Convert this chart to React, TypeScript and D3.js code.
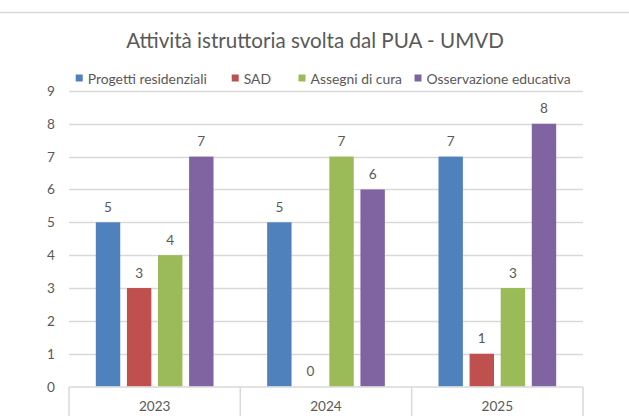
import React from "react";
import * as d3 from "d3";

const categories = ["2023", "2024", "2025"];
const seriesNames = ["Progetti residenziali", "SAD", "Assegni di cura", "Osservazione educativa"];
const progetti = [5, 5, 7];
const sad = [3, 0, 1];
const assegni = [4, 7, 3];
const osservazione = [7, 6, 8];
const yTicks = [0, 1, 2, 3, 4, 5, 6, 7, 8, 9];
const colors = ["#4F81BD", "#C0504D", "#9BBB59", "#8064A2"];
const title = "Attività istruttoria svolta dal PUA - UMVD";

const W = 629, H = 416;
const FONT = "Lato, 'Open Sans', sans-serif";
const TXT = "#595959";

export default function App() {
  const values = [progetti, sad, assegni, osservazione];
  const x = d3.scaleBand<string>().domain(categories).range([69, 583]).paddingInner(0).paddingOuter(0);
  const y = d3.scaleLinear().domain([0, 9]).range([386.6, 90.9]);
  const groupW = 117.7;
  const legendX = [75.7, 231.7, 298.5, 414.5];
  return (
    <svg width={W} height={H} style={{ position: "fixed", left: 0, top: 0, background: "#fff" }} fontFamily={FONT}>
      <rect x={0} y={0} width={W} height={H} fill="#fff" />
      <line x1={0} x2={W} y1={12.5} y2={12.5} stroke="#D9D9D9" strokeWidth={1.5} />
      <text x={315} y={48} textAnchor="middle" fontSize={20.6} fill={TXT}>{title}</text>
      {seriesNames.map((s, i) => (
        <g key={s}>
          <rect x={legendX[i]} y={74.5} width={7} height={7} fill={colors[i]} />
          <text x={legendX[i] + 12} y={83.5} fontSize={13.9} fill={TXT}>{s}</text>
        </g>
      ))}
      {yTicks.map((t) => (
        <g key={t}>
          {t > 0 && <line x1={69} x2={583} y1={Math.round(y(t)) + 0.5} y2={Math.round(y(t)) + 0.5} stroke="#D9D9D9" strokeWidth={1.5} />}
          <text x={55} y={y(t) + 5} textAnchor="end" fontSize={13.6} fill={TXT}>{t}</text>
        </g>
      ))}
      {categories.map((c, ci) => {
        const cx = (x(c) as number) + x.bandwidth() / 2;
        const xs = d3.scaleBand<number>().domain([0, 1, 2, 3]).range([cx - groupW / 2, cx + groupW / 2]).paddingInner(0.215).paddingOuter(0);
        return (
          <g key={c}>
            {values.map((arr, si) => {
              const v = arr[ci];
              const bx = xs(si) as number;
              return (
                <g key={si}>
                  {v > 0 && <rect x={bx} y={y(v)} width={xs.bandwidth()} height={y(0) - y(v)} fill={colors[si]} />}
                  <text x={bx + xs.bandwidth() / 2} y={y(v) - 10.5} textAnchor="middle" fontSize={13.6} fill={TXT}>{v}</text>
                </g>
              );
            })}
            <text x={cx} y={411} textAnchor="middle" fontSize={13.6} fill={TXT}>{c}</text>
          </g>
        );
      })}
      <line x1={69} x2={583} y1={387} y2={387} stroke="#D9D9D9" strokeWidth={1.5} />
      {[69, 240.3, 411.7, 583].map((vx, i) => (
        <line key={i} x1={vx} x2={vx} y1={387} y2={H} stroke="#D9D9D9" strokeWidth={1.5} />
      ))}
    </svg>
  );
}
